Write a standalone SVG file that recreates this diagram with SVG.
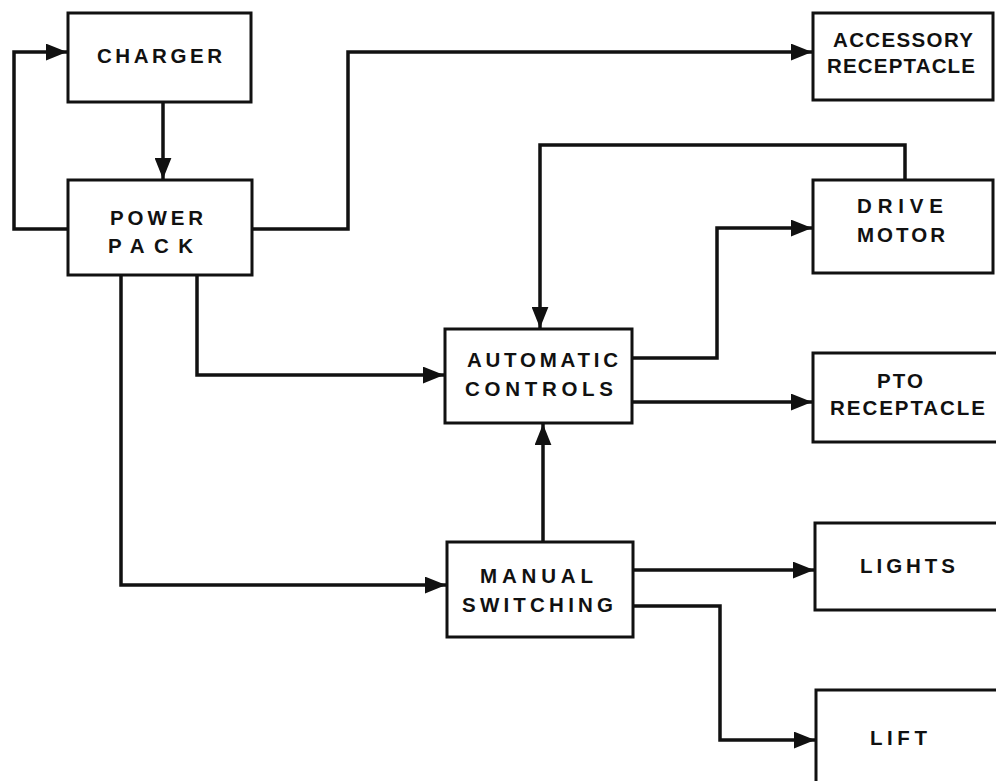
<svg xmlns="http://www.w3.org/2000/svg" width="996" height="781" viewBox="0 0 996 781">
<style>
.box{fill:#fff;stroke:#111;stroke-width:3}
.ln{fill:none;stroke:#111;stroke-width:3.5;stroke-linejoin:miter}
.t{font-family:"Liberation Sans",Arial,sans-serif;font-weight:bold;font-size:20.5px;fill:#111}
</style>
<defs>
<marker id="ah" viewBox="0 0 20 16" refX="20" refY="8" markerWidth="21" markerHeight="17" markerUnits="userSpaceOnUse" orient="auto">
<path d="M0,0 L20,8 L0,16 z" fill="#111"/>
</marker>
</defs>
<rect width="996" height="781" fill="#fff"/>
<g id="connectors">
<path class="ln" d="M68,229 L14,229 L14,52 L67,52" marker-end="url(#ah)"/>
<path class="ln" d="M163,102 L163,179" marker-end="url(#ah)"/>
<path class="ln" d="M252,229 L348,229 L348,52 L812,52" marker-end="url(#ah)"/>
<path class="ln" d="M197,275 L197,375 L444,375" marker-end="url(#ah)"/>
<path class="ln" d="M121,275 L121,585 L446,585" marker-end="url(#ah)"/>
<path class="ln" d="M905,180 L905,145 L540,145 L540,328" marker-end="url(#ah)"/>
<path class="ln" d="M632,358 L717,358 L717,228 L812,228" marker-end="url(#ah)"/>
<path class="ln" d="M632,402 L812,402" marker-end="url(#ah)"/>
<path class="ln" d="M543,542 L543,424" marker-end="url(#ah)"/>
<path class="ln" d="M633,570 L814,570" marker-end="url(#ah)"/>
<path class="ln" d="M633,606 L720,606 L720,740 L815,740" marker-end="url(#ah)"/>
</g>
<g id="charger">
<rect class="box" x="68" y="13" width="183" height="89"/>
<text class="t" x="97" y="63" textLength="125" lengthAdjust="spacing">CHARGER</text>
</g>
<g id="power-pack">
<rect class="box" x="68" y="180" width="184" height="95"/>
<text class="t" x="110" y="225" textLength="93" lengthAdjust="spacing">POWER</text>
<text class="t" x="108" y="253" textLength="85" lengthAdjust="spacing">PACK</text>
</g>
<g id="accessory-receptacle">
<rect class="box" x="813" y="13" width="180" height="87"/>
<text class="t" x="833" y="47" textLength="140" lengthAdjust="spacing">ACCESSORY</text>
<text class="t" x="827" y="73" textLength="148" lengthAdjust="spacing">RECEPTACLE</text>
</g>
<g id="drive-motor">
<rect class="box" x="813" y="180" width="180" height="93"/>
<text class="t" x="857" y="213" textLength="86" lengthAdjust="spacing">DRIVE</text>
<text class="t" x="857" y="242" textLength="88" lengthAdjust="spacing">MOTOR</text>
</g>
<g id="automatic-controls">
<rect class="box" x="445" y="329" width="187" height="94"/>
<text class="t" x="467" y="367" textLength="151" lengthAdjust="spacing">AUTOMATIC</text>
<text class="t" x="465" y="396" textLength="148" lengthAdjust="spacing">CONTROLS</text>
</g>
<g id="pto-receptacle">
<rect class="box" x="813" y="353" width="200" height="89"/>
<text class="t" x="877" y="388" textLength="46" lengthAdjust="spacing">PTO</text>
<text class="t" x="830" y="415" textLength="155" lengthAdjust="spacing">RECEPTACLE</text>
</g>
<g id="manual-switching">
<rect class="box" x="447" y="542" width="186" height="95"/>
<text class="t" x="480" y="583" textLength="113" lengthAdjust="spacing">MANUAL</text>
<text class="t" x="462" y="612" textLength="151" lengthAdjust="spacing">SWITCHING</text>
</g>
<g id="lights">
<rect class="box" x="815" y="523" width="200" height="87"/>
<text class="t" x="860" y="573" textLength="95" lengthAdjust="spacing">LIGHTS</text>
</g>
<g id="lift">
<rect class="box" x="816" y="690" width="200" height="110"/>
<text class="t" x="870" y="745" textLength="57" lengthAdjust="spacing">LIFT</text>
</g>
</svg>
